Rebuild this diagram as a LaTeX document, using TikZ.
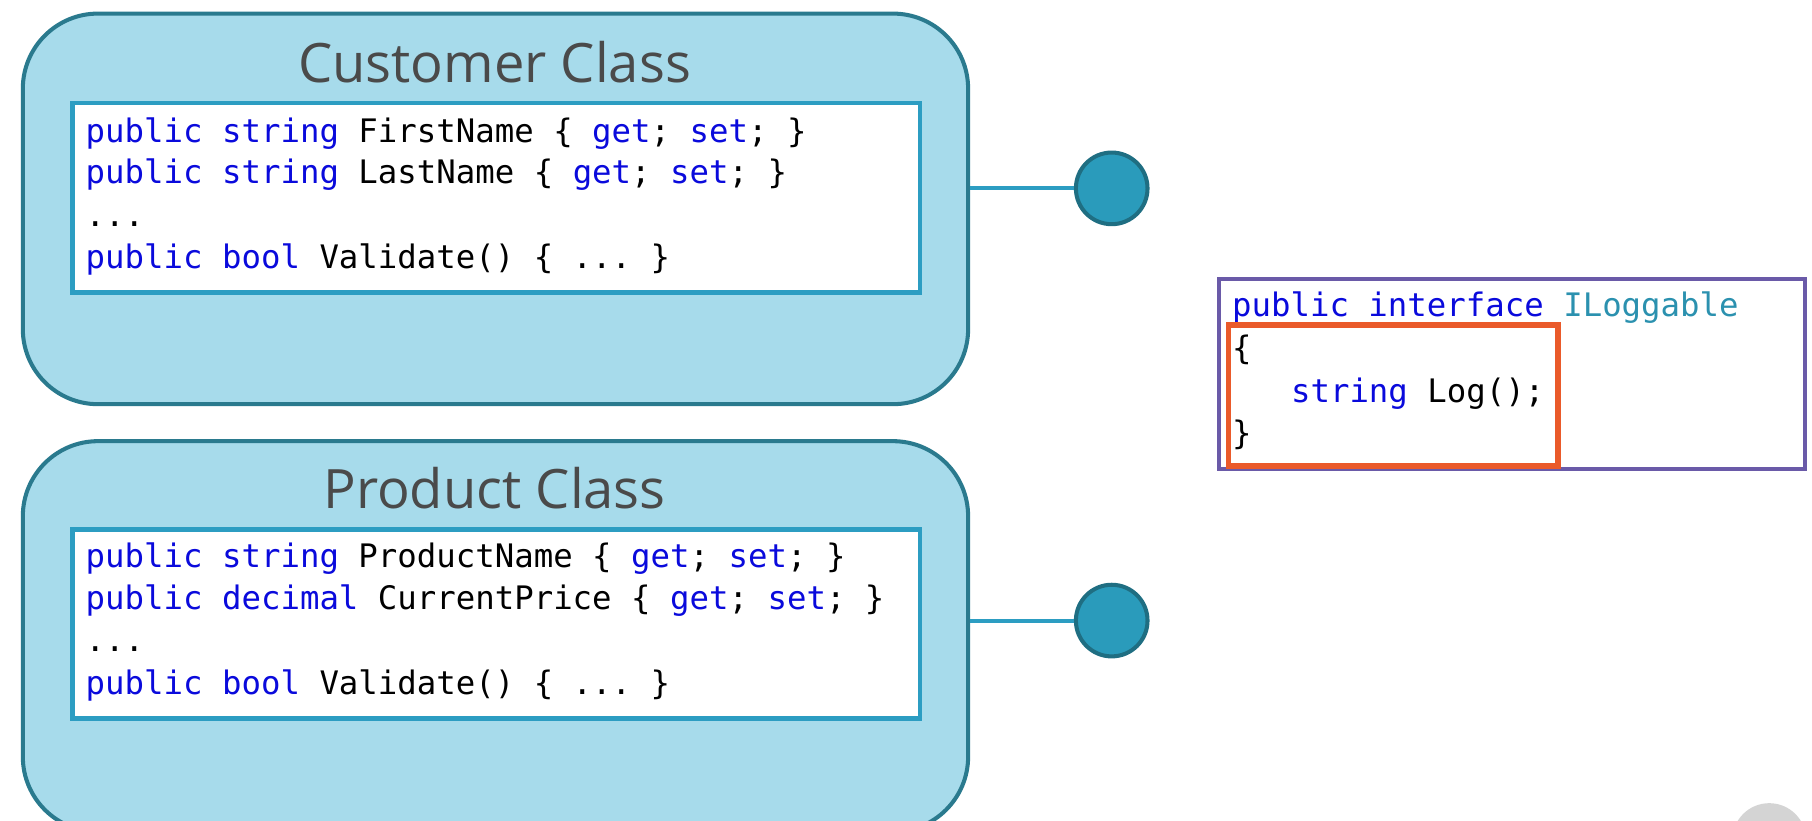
\documentclass[tikz,border=0pt]{standalone}
\usepackage{fontspec}
\setmainfont{Open Sans}
\setmonofont{DejaVu Sans Mono}
\usetikzlibrary{positioning}

\definecolor{classfill}{HTML}{A7DBEB}
\definecolor{classline}{HTML}{2A7A8E}
\definecolor{codeline}{HTML}{2C9DC2}
\definecolor{dotfill}{HTML}{2A9BBB}
\definecolor{dotline}{HTML}{1F6E82}
\definecolor{kwblue}{HTML}{0A0ADC}
\definecolor{typeteal}{HTML}{2B91AF}
\definecolor{ifaceline}{HTML}{6A5AA8}
\definecolor{hiline}{HTML}{EA5A2A}
\definecolor{titlegray}{HTML}{4A4A4A}
\definecolor{cornergray}{HTML}{D4D4D4}

\newcommand{\kwd}[1]{\textcolor{kwblue}{#1}}

\begin{document}
\begin{tikzpicture}[x=1pt, y=-1pt,
  classbox/.style={draw=classline, fill=classfill, line width=3.5pt, rounded corners=65pt,
    minimum width=818pt, minimum height=338pt, anchor=north west},
  codebox/.style={draw=codeline, fill=white, line width=4pt,
    minimum width=733pt, minimum height=164pt, anchor=north west},
  classtitle/.style={anchor=base, text=titlegray, font=\fontsize{47}{50}\selectfont},
  code/.style={anchor=base west, inner sep=0pt, font=\ttfamily\fontsize{28}{34}\selectfont},
  dot/.style={circle, draw=dotline, fill=dotfill, line width=3.5pt, minimum size=62pt},
  link/.style={draw=codeline, line width=3.5pt}]
\useasboundingbox (0,0) rectangle (1568,710);
\clip (0,0) rectangle (1568,710);

% Customer class
\node[classbox] (custbox) at (18,10) {};
\node[classtitle] (custtitle) at (428,71) {Customer Class};
\node[codebox] (custcode) at (61,87) {};
\node[code] (cust1) at (74,123) {\kwd{public} \kwd{string} FirstName \{ \kwd{get}; \kwd{set}; \}};
\node[code] (cust2) at (74,159) {\kwd{public} \kwd{string} LastName \{ \kwd{get}; \kwd{set}; \}};
\node[code] (cust3) at (74,196) {...};
\node[code] (cust4) at (74,232) {\kwd{public} \kwd{bool} Validate() \{ ... \}};

% Product class
\node[classbox] (prodbox) at (18,380) {};
\node[classtitle] (prodtitle) at (428,440) {Product Class};
\node[codebox] (prodcode) at (61,456) {};
\node[code] (prod1) at (74,491) {\kwd{public} \kwd{string} ProductName \{ \kwd{get}; \kwd{set}; \}};
\node[code] (prod2) at (74,527) {\kwd{public} \kwd{decimal} CurrentPrice \{ \kwd{get}; \kwd{set}; \}};
\node[code] (prod3) at (74,564) {...};
\node[code] (prod4) at (74,601) {\kwd{public} \kwd{bool} Validate() \{ ... \}};

% Lollipops
\node[dot] (custdot) at (962,163) {};
\node[dot] (proddot) at (962,537) {};
\draw[link] (custdot.west -| custbox.east) -- (custdot.west);
\draw[link] (proddot.west -| prodbox.east) -- (proddot.west);

% Interface
\node[draw=ifaceline, line width=3.5pt, minimum width=507pt, minimum height=164pt, anchor=north west] (iface) at (1053,240) {};
\node[code] (iface1) at (1066,274) {\kwd{public} \kwd{interface} \textcolor{typeteal}{ILoggable}};
\node[code] (iface2) at (1066,311) {\{};
\node[code] (iface3) at (1117,348) {\kwd{string} Log();};
\node[code] (iface4) at (1066,385) {\}};
\node[draw=hiline, line width=4.5pt, minimum width=285pt, minimum height=122pt, anchor=north west] (ifacebody) at (1061,279) {};

% corner overlay
\node[circle, fill=cornergray, minimum size=64pt] (corner) at (1531,727) {};
\end{tikzpicture}
\end{document}
